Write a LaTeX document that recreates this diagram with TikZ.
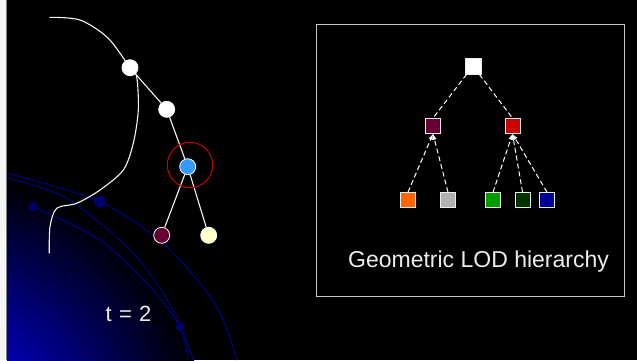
\documentclass[tikz,border=0pt]{standalone}
\usepackage{fontspec}
\setmainfont{Liberation Sans}
\usetikzlibrary{arrows.meta}
% Farben
\definecolor{kugelblau}{rgb}{0,0,0.72}
\definecolor{bahnblau}{rgb}{0,0,0.55}
\definecolor{punktblau}{rgb}{0,0,0.42}
\definecolor{hellblau}{rgb}{0.2,0.6,1}
\definecolor{weinrot}{rgb}{0.4,0,0.2}
\definecolor{creme}{rgb}{1,1,0.8}
\definecolor{ringrot}{rgb}{0.8,0,0}
\definecolor{lodrot}{rgb}{0.8,0,0}
\definecolor{lodorange}{rgb}{1,0.4,0}
\definecolor{lodgrau}{rgb}{0.7,0.7,0.7}
\definecolor{lodgruen}{rgb}{0,0.6,0}
\definecolor{loddunkelgruen}{rgb}{0,0.2,0}
\definecolor{lodblau}{rgb}{0,0,0.6}
\definecolor{rahmengrau}{rgb}{0.78,0.78,0.78}
\definecolor{schrift}{rgb}{0.93,0.93,0.93}
% Kugel: hell in der Mitte, schwarz am Rand
\pgfdeclareradialshading{kugel}{\pgfpoint{0bp}{0bp}}{color(0bp)=(kugelblau); color(10bp)=(kugelblau!94!black); color(25bp)=(black); color(50bp)=(black)}
\begin{document}
\begin{tikzpicture}[x=1pt,y=-1pt,>=latex,
  knoten/.style={circle,draw=white,line width=0.8pt,minimum size=16pt,inner sep=0pt},
  lod/.style={rectangle,draw=white!85!gray,line width=0.8pt,minimum size=15pt,inner sep=0pt},
  kante/.style={white!92!gray,line width=1.1pt},
  lodkante/.style={white,line width=1pt,dash pattern=on 5pt off 3pt,->},
  bahn/.style={bahnblau,line width=1pt},
  punkt/.style={fill=punktblau}]
% Hintergrund
\fill[black] (0,0) rectangle (637,360);
\useasboundingbox (0,0) rectangle (637,360);
\fill[white!92!gray] (0,0) rectangle (6,360);
\draw[gray,line width=0.8pt] (6.4,0) -- (6.4,360);
% Kugel unten links
\begin{scope}
  \clip (7,0) rectangle (637,360);
  \shade[shading=kugel] (-65,440) circle (271);
  % Bahnen
  \draw[bahn] plot[smooth] coordinates {(6.7,173) (100,201.7) (166.7,246.7) (216.7,306.7) (236.7,360)};
  \draw[bahn] plot[smooth] coordinates {(6.7,178) (66.7,198.3) (133.3,253.3) (173.3,310) (193,360)};
  \draw[bahn] plot[smooth] coordinates {(33,206.7) (100,240) (150,286.7) (180,326.7) (188,360)};
  \fill[punkt] (33,206.7) circle (4.5);
  \fill[punkt] (100,201.7) circle (6);
  \fill[punkt] (180,326.7) circle (4.5);
\end{scope}
% Kurve
\draw[white!92!gray,line width=1.1pt] plot[smooth] coordinates {(49.3,17.3) (80,20) (108,38) (130,67.7) (136.7,76.7) (138.3,110) (133.3,143.3) (123.3,170) (100,190) (76.7,203.3) (56.7,208.3) (50,226.7) (49.3,253.3)};
% Baum links
\node[knoten,fill=white] (a) at (130,67.7) {};
\node[knoten,fill=white] (b) at (166.7,109.3) {};
\node[knoten,fill=hellblau] (c) at (187.7,166.7) {};
\node[knoten,fill=weinrot] (d) at (161.7,235.3) {};
\node[knoten,fill=creme] (e) at (208.7,235.3) {};
\draw[kante] (a) -- (b);
\draw[kante] (b) -- (c);
\draw[kante] (c) -- (d);
\draw[kante] (c) -- (e);
% Auswahlkreis
\draw[ringrot,line width=1pt] (190,165) circle (22.7);
\node[schrift,anchor=base,font=\fontsize{22}{26}\selectfont] (zeit) at (128.5,321) {t\,\,=\,\,2};
% Rahmen rechts
\draw[rahmengrau,line width=1pt] (316.7,24) rectangle (624,296.7);
% LOD-Hierarchie
\node[lod,fill=white,minimum size=16pt] (wurzel) at (473,66) {};
\node[lod,fill=weinrot] (m) at (433,126) {};
\node[lod,fill=lodrot] (r) at (512.5,126) {};
\node[lod,fill=lodorange] (k1) at (408,200) {};
\node[lod,fill=lodgrau] (k2) at (448,200) {};
\node[lod,fill=lodgruen] (k3) at (493,200) {};
\node[lod,fill=loddunkelgruen] (k4) at (522.5,200) {};
\node[lod,fill=lodblau] (k5) at (547,200) {};
\draw[lodkante,-] (wurzel) -- (m.north);
\draw[lodkante,-] (wurzel) -- (r.north);
\draw[lodkante] (k1.north) -- (m.south);
\draw[lodkante] (k2.north) -- (m.south);
\draw[lodkante] (k3.north) -- (r.south);
\draw[lodkante] (k4.north) -- (r.south);
\draw[lodkante] (k5.north) -- (r.south);
\node[schrift,anchor=base,font=\fontsize{23}{27}\selectfont] (titel) at (478.5,267) {Geometric LOD hierarchy};
\end{tikzpicture}
\end{document}
